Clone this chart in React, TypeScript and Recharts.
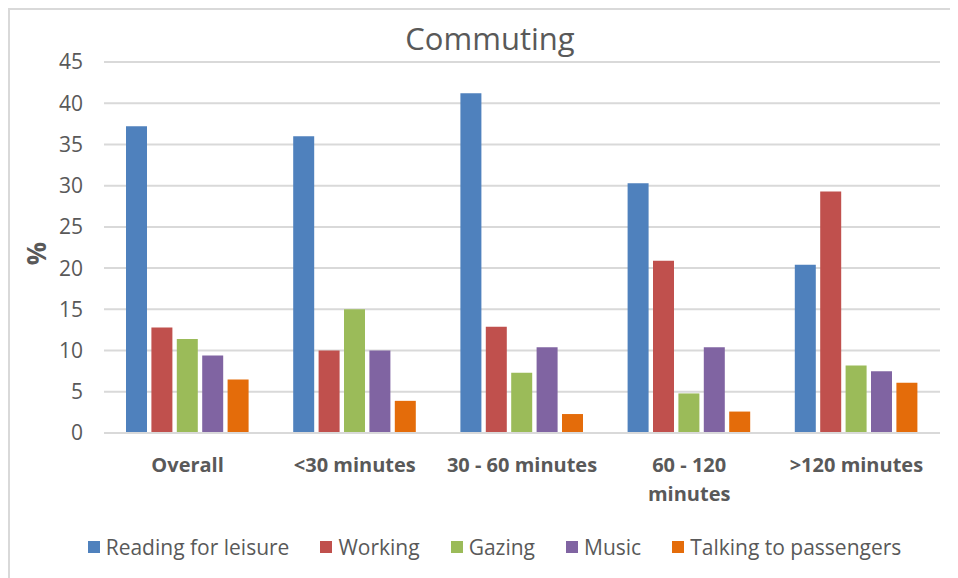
import React from 'react';
import { BarChart, Bar, XAxis, YAxis, CartesianGrid, Legend } from 'recharts';

const categories = ['Overall', '<30 minutes', '30 - 60 minutes', '60 - 120 minutes', '>120 minutes'];
const readingForLeisure = [37.2, 36.0, 41.2, 30.3, 20.4];
const working = [12.8, 10.0, 12.9, 20.9, 29.3];
const gazing = [11.4, 15.0, 7.3, 4.8, 8.2];
const music = [9.4, 10.0, 10.4, 10.4, 7.5];
const talkingToPassengers = [6.5, 3.9, 2.3, 2.6, 6.1];
const yTicks = [0, 5, 10, 15, 20, 25, 30, 35, 40, 45];

const series = [
    { key: 'reading', name: 'Reading for leisure', color: '#4F81BD', values: readingForLeisure },
    { key: 'working', name: 'Working', color: '#C0504D', values: working },
    { key: 'gazing', name: 'Gazing', color: '#9BBB59', values: gazing },
    { key: 'music', name: 'Music', color: '#8064A2', values: music },
    { key: 'talking', name: 'Talking to passengers', color: '#E46C0A', values: talkingToPassengers },
];

const data = categories.map((name, i) => {
    const row: any = { name };
    series.forEach(s => { row[s.key] = s.values[i]; });
    return row;
});

const FONT = '"Open Sans", sans-serif';
const TEXT = '#595959';
const GRID = '#d9d9d9';
const MAX_LABEL_CHARS = 15;

// long category labels break at the last space onto a second line
function CategoryTick({ x, y, payload }: any) {
    const label: string = payload.value;
    let lines = [label];
    if (label.length > MAX_LABEL_CHARS) {
        const cut = label.lastIndexOf(' ');
        lines = [label.slice(0, cut), label.slice(cut + 1)];
    }
    return (
        <text x={x} y={y + 31} textAnchor="middle" fontFamily={FONT} fontSize={20} fontWeight={700} fill={TEXT}>
            {lines.map((line, i) => (
                <tspan key={i} x={x} dy={i === 0 ? 0 : 29}>{line}</tspan>
            ))}
        </text>
    );
}

function LegendRow() {
    return (
        <div style={{ display: 'flex', justifyContent: 'center', alignItems: 'center', height: 30, paddingLeft: 5, gap: 31, fontFamily: FONT, fontSize: 21, color: TEXT }}>
            {series.map(s => (
                <div key={s.key} style={{ display: 'flex', alignItems: 'center' }}>
                    <span style={{ width: 12, height: 12, background: s.color, marginRight: 6, display: 'inline-block' }} />
                    <span>{s.name}</span>
                </div>
            ))}
        </div>
    );
}

export default function App() {
    return (
        <div style={{ position: 'relative', width: 950, height: 570, overflow: 'hidden' }}>
            <div style={{ position: 'absolute', left: 0, top: 0, width: 960, height: 580, borderTop: `2px solid ${GRID}`, borderLeft: `2px solid ${GRID}` }} />
            <div style={{ position: 'absolute', left: 0, top: 12, width: 964, textAlign: 'center', fontFamily: FONT, fontSize: 31, color: TEXT, lineHeight: '36px' }}>
                Commuting
            </div>
            <div style={{ position: 'absolute', left: 0, top: 0 }}>
                <BarChart
                    width={950}
                    height={570}
                    data={data}
                    margin={{ top: 54, right: 18, left: 36, bottom: 16 }}
                    barSize={21}
                    barGap={4.4}
                >
                    <CartesianGrid vertical={false} stroke={GRID} strokeWidth={2} />
                    <XAxis
                        dataKey="name"
                        interval={0}
                        height={99}
                        tickLine={false}
                        axisLine={{ stroke: GRID, strokeWidth: 2 }}
                        tick={<CategoryTick />}
                    />
                    <YAxis
                        width={60}
                        domain={[0, 45]}
                        ticks={yTicks}
                        axisLine={false}
                        tickLine={false}
                        tickSize={0}
                        tickMargin={21}
                        tick={{ fontFamily: FONT, fontSize: 21, fill: TEXT }}
                        label={{
                            content: ({ viewBox }: any) => (
                                <text
                                    x={28}
                                    y={viewBox.y + viewBox.height / 2 + 6}
                                    transform={`rotate(-90, 28, ${viewBox.y + viewBox.height / 2 + 6})`}
                                    textAnchor="middle"
                                    dominantBaseline="central"
                                    fontFamily={FONT}
                                    fontSize={26}
                                    fontWeight={700}
                                    fill={TEXT}
                                >
                                    %
                                </text>
                            ),
                        }}
                    />
                    <Legend verticalAlign="bottom" content={<LegendRow />} />
                    {series.map(s => (
                        <Bar key={s.key} dataKey={s.key} name={s.name} fill={s.color} isAnimationActive={false} />
                    ))}
                </BarChart>
            </div>
        </div>
    );
}
